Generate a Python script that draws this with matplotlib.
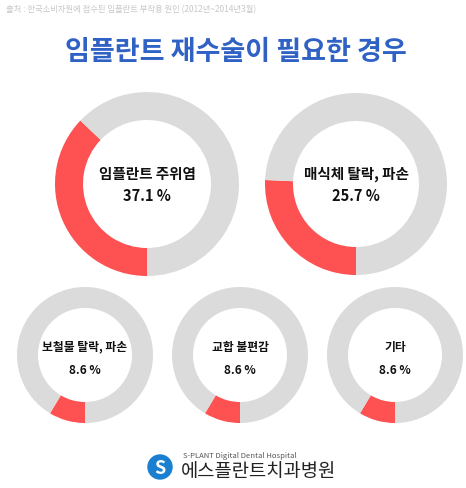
import matplotlib.pyplot as plt
from matplotlib.patches import Circle

plt.rcParams['font.family'] = ['Noto Sans CJK KR', 'DejaVu Sans']

W, H = 466, 488
labels = ["임플란트 주위염", "매식체 탈락, 파손", "보철물 탈락, 파손", "교합 불편감", "기타"]
values = [37.1, 25.7, 8.6, 8.6, 8.6]
centers = [(147, 184), (356, 184), (85, 355), (240, 355), (395, 355)]
radii = [92, 91, 68, 68, 68]
widths = [28, 28, 21, 21, 21]

RED = "#fe5152"
GRAY = "#dbdbdb"

fig = plt.figure(figsize=(W / 100, H / 100), dpi=100)
ax = fig.add_axes([0, 0, 1, 1])

for lab, v, (cx, cy), r, w in zip(labels, values, centers, radii, widths):
    ax.pie([v, 100 - v], colors=[RED, GRAY], startangle=270, counterclock=False,
           center=(cx, H - cy), radius=r, wedgeprops=dict(width=w, linewidth=0))
    big = r > 80
    ax.text(cx, H - cy + (10 if big else 8), lab, ha="center", va="center",
            fontsize=10.5 if big else 8.5, fontweight="bold", color="#111111")
    ax.text(cx, H - cy - (12 if big else 15), f"{v} %", ha="center", va="center",
            fontsize=10.5 if big else 8.5, fontweight="bold", color="#111111")

ax.set_xlim(0, W)
ax.set_ylim(0, H)
ax.set_aspect("equal")
ax.axis("off")

ax.text(6, H - 10, "출처 : 한국소비자원에 접수된 임플란트 부작용 원인 (2012년~2014년3월)",
        fontsize=6, color="#c8c8c8", va="center")
ax.text(236, H - 52, "임플란트 재수술이 필요한 경우", fontsize=19.5, fontweight="bold",
        color="#2f62c4", ha="center", va="center")

# logo
ax.add_patch(Circle((160, H - 467), 12, color="#1a7fd0"))
ax.text(160, H - 468, "S", fontsize=13, fontweight="bold", color="white", ha="center", va="center")
ax.text(183, H - 456, "S-PLANT Digital Dental Hospital", fontsize=5.5, color="#555555", va="center")
ax.text(181, H - 471, "에스플란트치과병원", fontsize=13.5, color="#222222", va="center")

fig.savefig("out.png", dpi=100)
